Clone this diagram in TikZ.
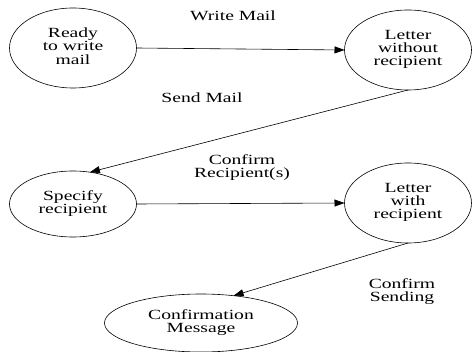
\documentclass[tikz,border=0pt]{standalone}
\usepackage{fontspec}
\setmainfont{Liberation Serif}
\usetikzlibrary{positioning}
\usetikzlibrary{shapes,arrows.meta,shapes.geometric}
\tikzset{
    %Define standard arrow tip
    >={Triangle[length=10pt,width=7pt]},
    % Define arrow style
    pil/.style={
           ->,
           color=black,
           line width=0.6pt,}
}
\newcommand{\stateheight}{80pt}
% wide text, as in the drawing
\newcommand{\widetext}[1]{\scalebox{1.4}[1]{\begin{tabular}{@{}c@{}}#1\end{tabular}}}

\begin{document}
\begin{tikzpicture}[node distance=0cm, outer sep=0pt, font=\fontsize{14}{15}\selectfont]
\tikzstyle{statebox}=[draw=black, fill=white, ellipse, line width=0.6pt, inner sep=0pt,
                   minimum height=\stateheight, minimum width=127pt, align=center]
\tikzstyle{lbl}=[align=center, inner sep=0pt]
\renewcommand{\arraystretch}{0.85}

\useasboundingbox (0pt,0pt) rectangle (473pt,-352pt);

%%%%%%%%%%%%%%%%%%%%%%%%%%%%%%%%%
% states
%%%%%%%%%%%%%%%%%%%%%%%%%%%%%%%%%
    \node[statebox] (ready) at (73pt,-48pt) {\widetext{Ready\\to write\\mail}};
    \node[statebox] (nornd) at (408pt,-50pt) {\widetext{Letter\\without\\recipient}};
    \node[statebox, minimum height=66pt] (spec) at (73pt,-204pt) {\widetext{Specify\\recipient}};
    \node[statebox] (withrcp) at (408pt,-203pt) {\widetext{Letter\\with\\recipient}};
    \node[statebox, minimum height=58pt, minimum width=193pt] (confmsg) at (201pt,-323pt) {\widetext{Confirmation\\Message}};

\path[pil] (ready.east) edge (nornd.west);
\path[pil] (nornd.south) edge (spec.62);
\path[pil] (spec.east) edge (withrcp.west);
\path[pil] (withrcp.south) edge (confmsg.40);

\node[lbl] (writelbl) at (233pt,-18pt) {\widetext{Write Mail}};
\node[lbl] (sendlbl) at (202pt,-100pt) {\widetext{Send Mail}};
\node[lbl] (rcplbl) at (242pt,-168pt) {\widetext{Confirm\\Recipient(s)}};
\node[lbl] (sendinglbl) at (402pt,-292pt) {\widetext{Confirm\\Sending}};

\end{tikzpicture}
\end{document}
